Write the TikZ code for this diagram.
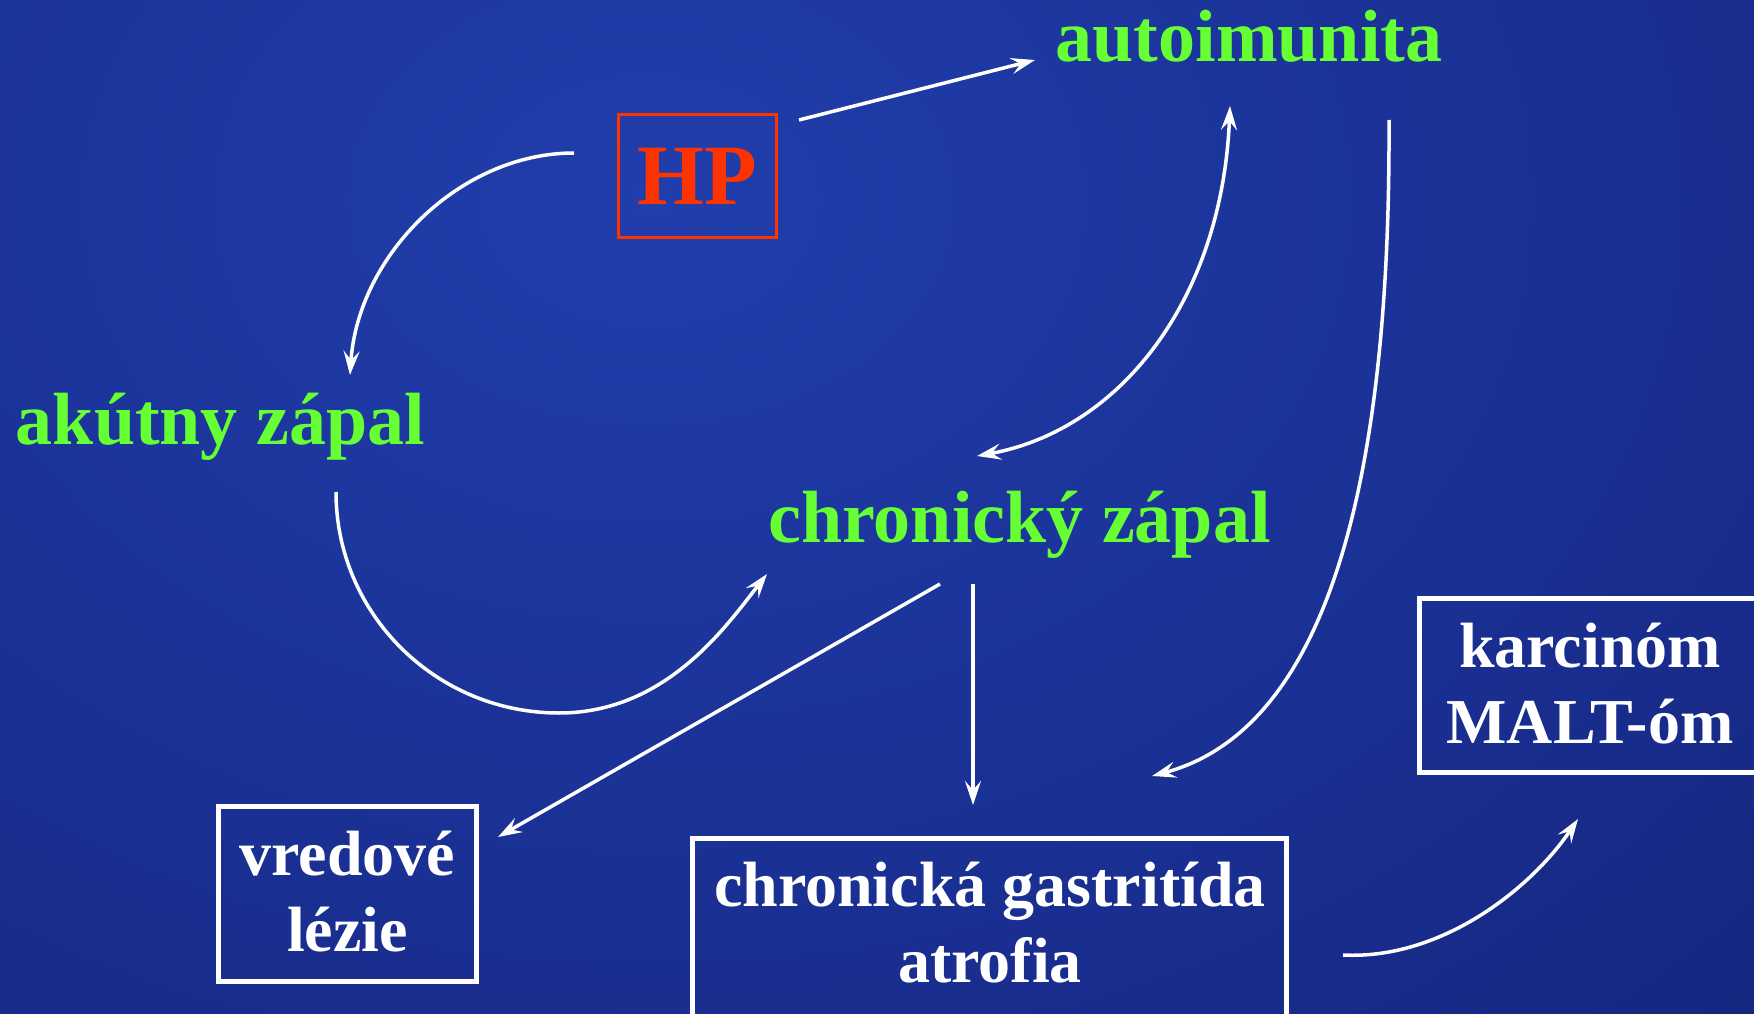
\documentclass[tikz,border=0pt]{standalone}
\usepackage{fontspec}
\setmainfont{Liberation Serif}
\usetikzlibrary{arrows.meta}
\definecolor{grn}{RGB}{102,255,51}
\definecolor{hpred}{RGB}{255,51,0}
\definecolor{bgA}{RGB}{32,62,172}
\definecolor{bgB}{RGB}{24,44,140}
\definecolor{bgC}{RGB}{12,16,70}
\pgfdeclareradialshading{bgshade}{\pgfpoint{0bp}{0bp}}{color(0bp)=(bgA); color(26bp)=(bgB); color(70bp)=(bgC)}
\begin{document}
\begin{tikzpicture}[x=1pt,y=-1pt,
  greentext/.style={text=grn, font=\fontsize{74}{80}\selectfont\bfseries, inner sep=0pt, anchor=base},
  whitetext/.style={text=white, font=\fontsize{64}{76}\selectfont\bfseries, align=center, inner sep=0pt, anchor=north},
  wbox/.style={draw=white, line width=5pt, inner sep=0pt},
  arr/.style={draw=white, line width=3.5pt, -{Stealth[length=24pt,width=16pt,inset=9pt]}},
  darr/.style={draw=white, line width=3.5pt, {Stealth[length=24pt,width=16pt,inset=9pt]}-{Stealth[length=24pt,width=16pt,inset=9pt]}}
]
\clip (0,0) rectangle (1754,1014);
\fill[bgC] (0,0) rectangle (1754,1014);
\shade[shading=bgshade] (-500,-650) rectangle (1800,1050);

% nodes
\node[draw=hpred, line width=3pt, minimum width=158pt, minimum height=122pt, inner sep=0pt,
      text=hpred, font=\fontsize{86}{90}\selectfont\bfseries] (hp) at (697.5,176) {HP};
\node[greentext] (auto) at (1249,62) {autoimunita};
\node[greentext] (akut) at (220.5,444) {akútny zápal};
\node[greentext] (chron) at (1019.5,542) {chronický zápal};

\node[wbox, minimum width=258pt, minimum height=175pt] (vbox) at (347.5,894) {};
\node[whitetext] (vtxt) at (347.5,831) {vredové\\lézie};

\node[wbox, minimum width=594pt, minimum height=201.5pt] (gbox) at (989.5,939.25) {};
\node[whitetext] (gtxt) at (990,862) {chronická gastritída\\atrofia};

\node[wbox, minimum width=350.5pt, minimum height=174pt] (kbox) at (1594.75,685.5) {};
\node[whitetext] (ktxt) at (1590,623) {karcinóm\\MALT-óm};

% connector end points
\coordinate (hpR) at (799,120);
\coordinate (autoL) at (1035,60);
\coordinate (hpL) at (574,153);
\coordinate (akutT) at (350,375);
\coordinate (akutB) at (336,492);
\coordinate (arcBot) at (559,713);
\coordinate (chronL) at (767,574);
\coordinate (autoB) at (1230,106);
\coordinate (chronT) at (977,456);
\coordinate (autoR) at (1389,120);
\coordinate (gboxR) at (1152,776);
\coordinate (chronB1) at (940,584);
\coordinate (vboxR) at (498,837);
\coordinate (chronB2) at (973,584);
\coordinate (gboxT) at (973,805);
\coordinate (gboxE) at (1343,955);
\coordinate (kboxB) at (1578,819);

% connectors
\draw[arr] (hpR) -- (autoL);
\draw[arr] (hpL) .. controls (460,153) and (358,255) .. (akutT);
\draw[arr] (akutB) .. controls (336,614) and (436,713) .. (arcBot)
           .. controls (665,713) and (725,628) .. (chronL);
\draw[darr] (chronT) .. controls (1120,430) and (1222,300) .. (autoB);
\draw[arr] (autoR) .. controls (1391,540) and (1305,735) .. (gboxR);
\draw[arr] (chronB1) -- (vboxR);
\draw[arr] (chronB2) -- (gboxT);
\draw[arr] (gboxE) .. controls (1440,960) and (1530,890) .. (kboxB);
\end{tikzpicture}
\end{document}
